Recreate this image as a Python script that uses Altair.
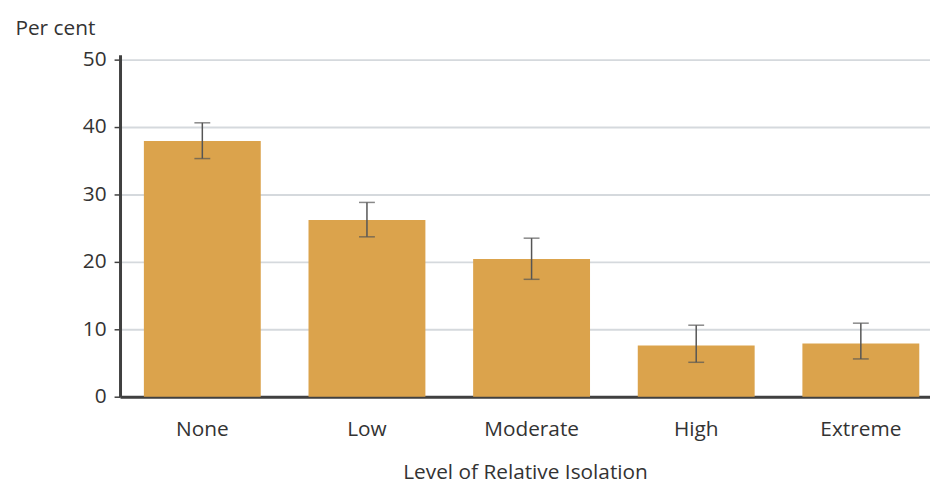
import altair as alt
import pandas as pd

categories = ["None", "Low", "Moderate", "High", "Extreme"]
values = [37.9, 26.2, 20.4, 7.6, 7.9]
err_low = [35.3, 23.7, 17.4, 5.1, 5.6]
err_high = [40.6, 28.8, 23.5, 10.6, 10.9]

df = pd.DataFrame({"cat": categories, "val": values, "lo": err_low, "hi": err_high})

FONT = "Open Sans"
TXT = "#333333"
FS = 21

xscale = alt.Scale(domain=categories, paddingInner=0.29, paddingOuter=0.105, align=0.69)
x = alt.X("cat:N", sort=categories, scale=xscale,
          axis=alt.Axis(title="Level of Relative Isolation", labelAngle=0, ticks=False,
                        domain=True, domainColor="#404040", domainWidth=3,
                        labelFont=FONT, labelFontSize=FS, labelColor=TXT, labelPadding=22,
                        titleFont=FONT, titleFontSize=FS, titleColor=TXT, titleFontWeight="normal",
                        titlePadding=22))
yscale = alt.Scale(domain=[0, 50.7], nice=False)
y = alt.Y("val:Q", scale=yscale,
          axis=alt.Axis(title="Per cent", values=[0, 10, 20, 30, 40, 50], grid=True,
                        gridColor="#d5d9dd", gridWidth=2, domainColor="#404040", domainWidth=3,
                        tickColor="#404040", tickSize=6, tickWidth=1.5,
                        labelFont=FONT, labelFontSize=FS, labelColor=TXT, labelPadding=8,
                        titleFont=FONT, titleFontSize=FS, titleColor=TXT, titleFontWeight="normal",
                        titleAngle=0, titleAlign="left", titleBaseline="middle",
                        titleX=-106, titleY=-26))

bars = alt.Chart(df).mark_bar(color="#DBA34C").encode(x=x, y=y)
stems = alt.Chart(df).mark_rule(color="#555555", strokeWidth=1.5).encode(
    x=alt.X("cat:N", sort=categories, scale=xscale), y=alt.Y("lo:Q", scale=yscale), y2="hi:Q")
caps_lo = alt.Chart(df).mark_tick(color="#555555", thickness=1.5, size=16).encode(
    x=alt.X("cat:N", sort=categories, scale=xscale), y=alt.Y("lo:Q", scale=yscale))
caps_hi = alt.Chart(df).mark_tick(color="#555555", thickness=1.5, size=16).encode(
    x=alt.X("cat:N", sort=categories, scale=xscale), y=alt.Y("hi:Q", scale=yscale))

chart = alt.layer(bars, stems, caps_lo, caps_hi).properties(
    width=817, height=345,
    autosize=alt.AutoSizeParams(type="none"),
    padding={"left": 113, "top": 45, "right": 0, "bottom": 90},
).configure_view(stroke=None).configure_axisX(grid=False)

chart.save("out.html", embed_options={"renderer": "svg", "actions": False})
